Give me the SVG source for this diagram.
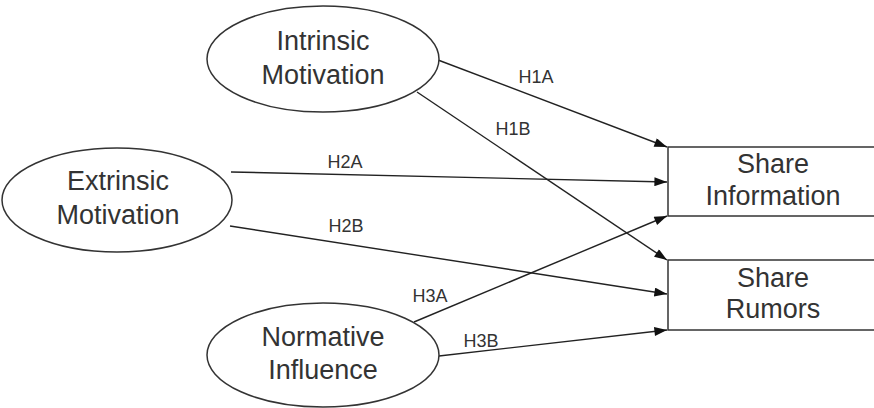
<svg xmlns="http://www.w3.org/2000/svg" width="874" height="408" viewBox="0 0 874 408">
<defs>
<marker id="arr" viewBox="0 0 14 10" refX="14" refY="5" markerWidth="14" markerHeight="9" markerUnits="userSpaceOnUse" orient="auto">
<path d="M0,0 L14,5 L0,10 Z" fill="#111"/>
</marker>
<style>
.node{fill:#fff;stroke:#333;stroke-width:1.5}
.t{font-family:"Liberation Sans",Arial,sans-serif;font-size:27px;fill:#333;text-anchor:middle}
.lbl{font-family:"Liberation Sans",Arial,sans-serif;font-size:18px;fill:#333;text-anchor:middle}
.edge{stroke:#222;stroke-width:1.4;fill:none;marker-end:url(#arr)}
</style>
</defs>
<rect width="874" height="408" fill="#fff"/>
<g id="connectors">
<line class="edge" x1="438" y1="60" x2="667" y2="147"/>
<line class="edge" x1="417" y1="92" x2="667" y2="260"/>
<line class="edge" x1="231" y1="172" x2="667" y2="182"/>
<line class="edge" x1="230" y1="226" x2="667" y2="294"/>
<line class="edge" x1="414" y1="322" x2="667" y2="216"/>
<line class="edge" x1="439" y1="356" x2="667" y2="330"/>
<text class="lbl" x="536" y="83">H1A</text>
<text class="lbl" x="513" y="135">H1B</text>
<text class="lbl" x="345" y="168">H2A</text>
<text class="lbl" x="346" y="232">H2B</text>
<text class="lbl" x="430" y="302">H3A</text>
<text class="lbl" x="481" y="347">H3B</text>
</g>
<g id="intrinsic">
<ellipse class="node" cx="323" cy="59" rx="116" ry="53"/>
<text class="t" x="323" y="50">Intrinsic</text>
<text class="t" x="323" y="84">Motivation</text>
</g>
<g id="extrinsic">
<ellipse class="node" cx="117" cy="200" rx="115" ry="52"/>
<text class="t" x="118" y="190">Extrinsic</text>
<text class="t" x="118" y="224">Motivation</text>
</g>
<g id="normative">
<ellipse class="node" cx="323" cy="355" rx="116" ry="52"/>
<text class="t" x="323" y="346">Normative</text>
<text class="t" x="323" y="379">Influence</text>
</g>
<g id="share-information">
<rect class="node" x="668" y="147" width="210" height="69"/>
<text class="t" x="773" y="173">Share</text>
<text class="t" x="773" y="205">Information</text>
</g>
<g id="share-rumors">
<rect class="node" x="668" y="260" width="210" height="70"/>
<text class="t" x="773" y="287">Share</text>
<text class="t" x="773" y="318">Rumors</text>
</g>
</svg>
